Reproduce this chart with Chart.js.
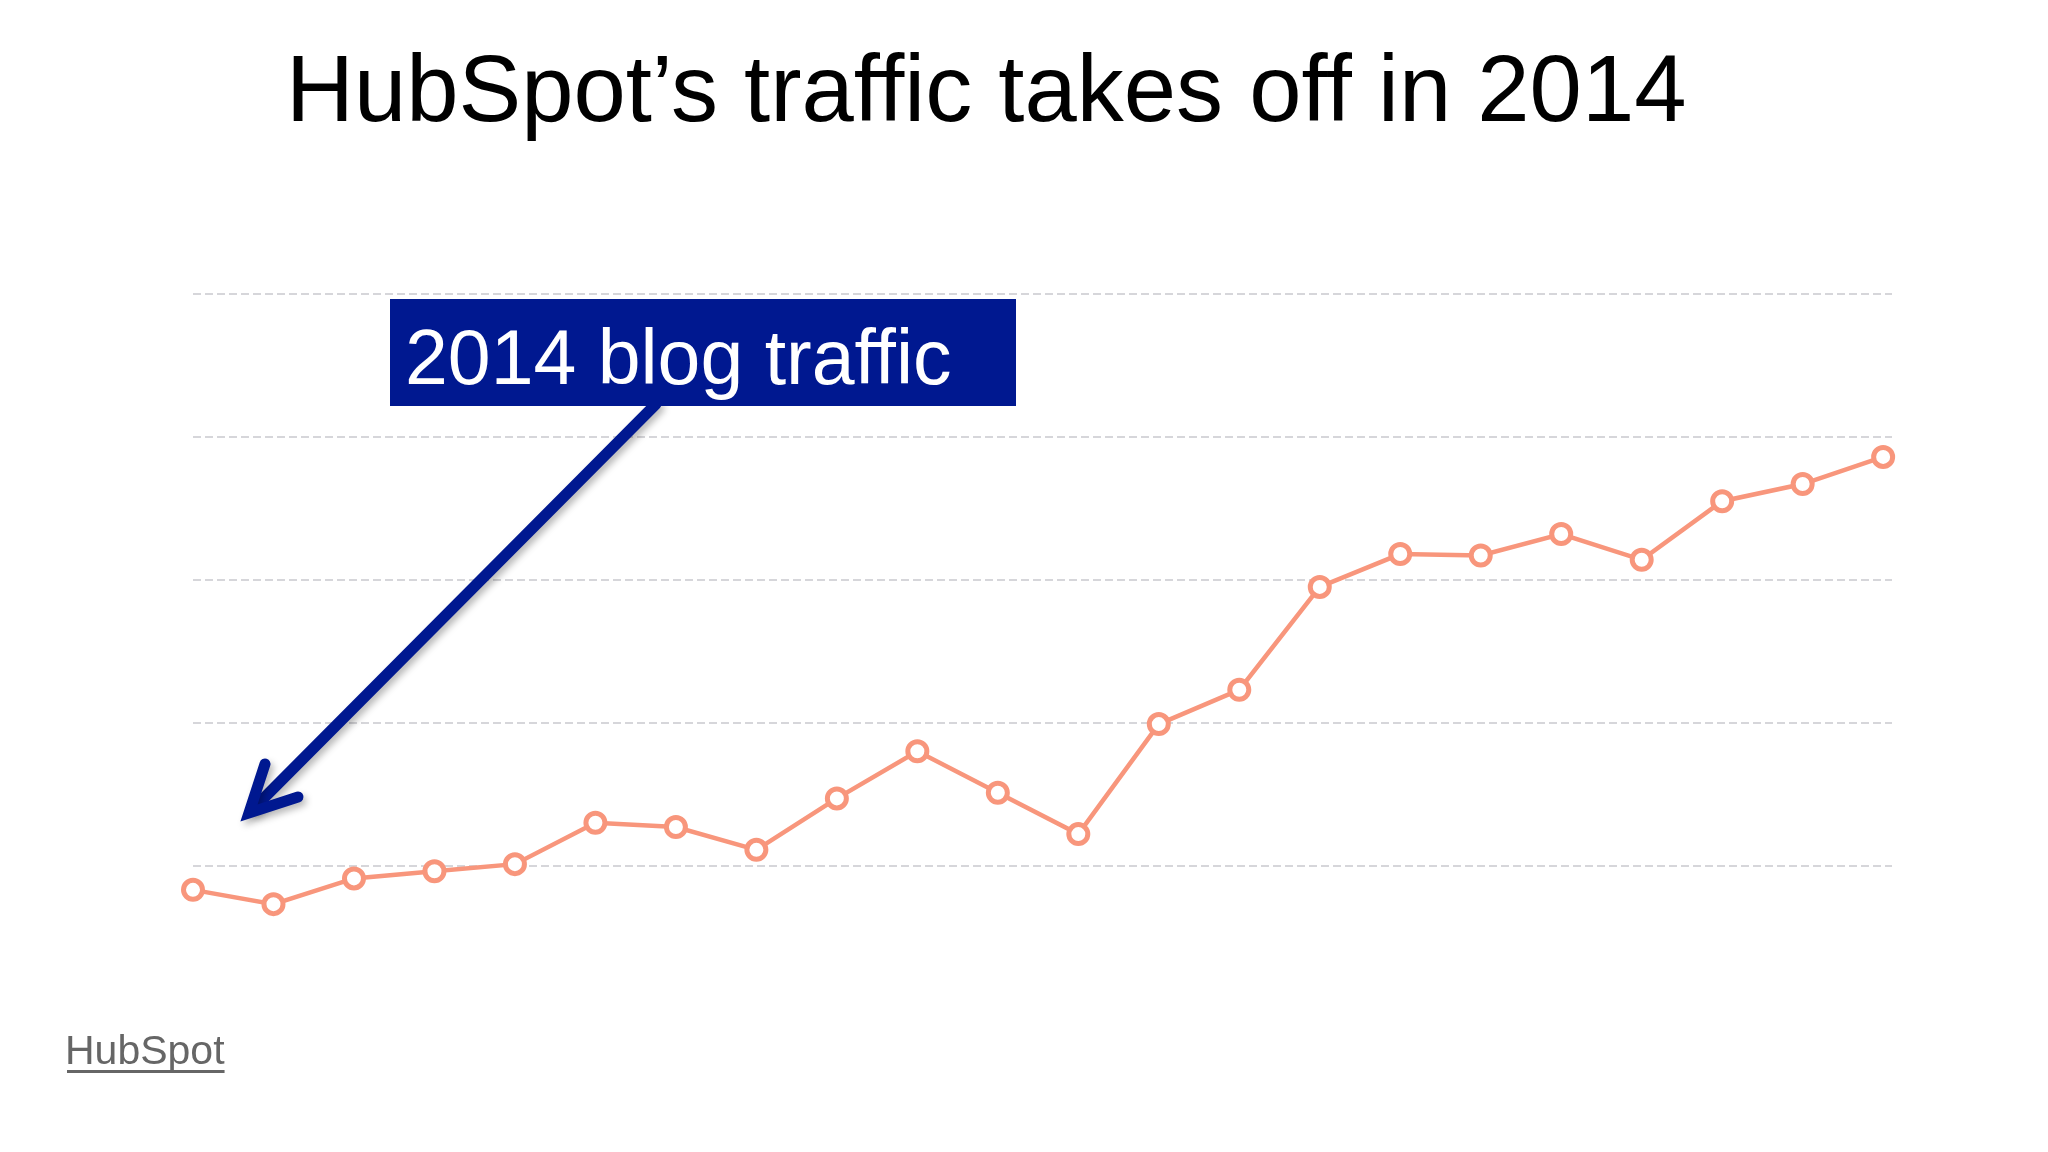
<!DOCTYPE html>
<html lang="en">
<head>
<meta charset="utf-8">
<title>HubSpot's traffic takes off in 2014</title>
<script src="https://cdn.jsdelivr.net/npm/chart.js@4.4.1/dist/chart.umd.min.js"></script>
<style>
  html, body { margin: 0; padding: 0; background: #ffffff; }
  #chart { display: block; width: 2048px; height: 1152px; }
</style>
</head>
<body>
<canvas id="chart" width="2048" height="1152"></canvas>
<script>
/**
 * Slide-style line chart: 2014 blog traffic (unlabelled axes),
 * a title, a callout box with an arrow and a small source footer.
 */

// ---- data -------------------------------------------------------------
const weeks = [1, 2, 3, 4, 5, 6, 7, 8, 9, 10, 11, 12, 13, 14, 15, 16, 17, 18, 19, 20, 21, 22];
const traffic = [0.83, 0.73, 0.91, 0.96, 1.01, 1.30, 1.27, 1.11, 1.47, 1.80, 1.51,
                 1.22, 1.99, 2.23, 2.95, 3.18, 3.17, 3.32, 3.14, 3.55, 3.67, 3.86];
const gridValues = [1, 2, 3, 4, 5];

const TITLE = "HubSpot\u2019s traffic takes off in 2014";
const CALLOUT = "2014 blog traffic";
const SOURCE = "HubSpot";

const colors = {
  line: "#f8967c",
  grid: "rgba(200, 200, 206, 0.75)",
  navy: "#001890",
  source: "#666666",
};

// ---- decorations drawn on the canvas ----------------------------------
const slideDecor = {
  id: "slideDecor",
  afterDraw(chart) {
    const ctx = chart.ctx;
    ctx.save();

    // title
    ctx.fillStyle = "#000";
    ctx.font = "94px 'Liberation Sans', Arial, sans-serif";
    ctx.textBaseline = "alphabetic";
    ctx.textAlign = "left";
    ctx.fillText(TITLE, 286, 121);

    // arrow from the callout down to the first weeks
    ctx.save();
    ctx.shadowColor = "rgba(0, 0, 0, 0.28)";
    ctx.shadowBlur = 7;
    ctx.shadowOffsetX = 3;
    ctx.shadowOffsetY = 4;
    ctx.strokeStyle = colors.navy;
    ctx.lineWidth = 11;
    ctx.lineCap = "round";
    ctx.lineJoin = "miter";
    ctx.beginPath();
    ctx.moveTo(656, 404);
    ctx.lineTo(254, 808);
    ctx.stroke();
    ctx.beginPath();
    ctx.moveTo(265, 764);
    ctx.lineTo(249, 813);
    ctx.lineTo(298, 797);
    ctx.stroke();
    ctx.restore();

    // callout box
    ctx.fillStyle = colors.navy;
    ctx.fillRect(390, 299, 626, 107);
    ctx.fillStyle = "#ffffff";
    ctx.font = "77px 'Liberation Sans', Arial, sans-serif";
    ctx.fillText(CALLOUT, 405, 384);

    // source footer (underlined link look)
    ctx.fillStyle = colors.source;
    ctx.font = "41px 'Liberation Sans', Arial, sans-serif";
    ctx.fillText(SOURCE, 65, 1064);
    const w = ctx.measureText(SOURCE).width;
    ctx.fillRect(67, 1070, w - 2, 3);

    ctx.restore();
  },
};

// ---- chart --------------------------------------------------------------
const ctx = document.getElementById("chart");
new Chart(ctx, {
  type: "line",
  data: {
    datasets: [
      {
        label: "2014 blog traffic",
        data: weeks.map((w, i) => ({ x: w, y: traffic[i] })),
        borderColor: colors.line,
        borderWidth: 4.5,
        pointRadius: 9.5,
        pointBorderWidth: 5,
        pointBackgroundColor: "#ffffff",
        pointBorderColor: colors.line,
        tension: 0,
        clip: false,
      },
    ],
  },
  options: {
    responsive: false,
    devicePixelRatio: 1,
    animation: false,
    events: [],
    layout: {
      autoPadding: false,
      padding: { left: 193, right: 156, top: 294, bottom: 215 },
    },
    scales: {
      x: {
        type: "linear",
        display: false,
        min: 1,
        max: 22.11,
      },
      y: {
        min: 0.5,
        max: 5,
        afterBuildTicks: (axis) => {
          axis.ticks = gridValues.map((v) => ({ value: v }));
        },
        // in v4 border.dash also dashes the grid lines
        border: { display: false, dash: [8, 4] },
        grid: {
          color: colors.grid,
          lineWidth: 2,
          drawTicks: false,
        },
        ticks: { display: false },
      },
    },
    plugins: {
      legend: { display: false },
      tooltip: { enabled: false },
    },
  },
  plugins: [slideDecor],
});
</script>
</body>
</html>
